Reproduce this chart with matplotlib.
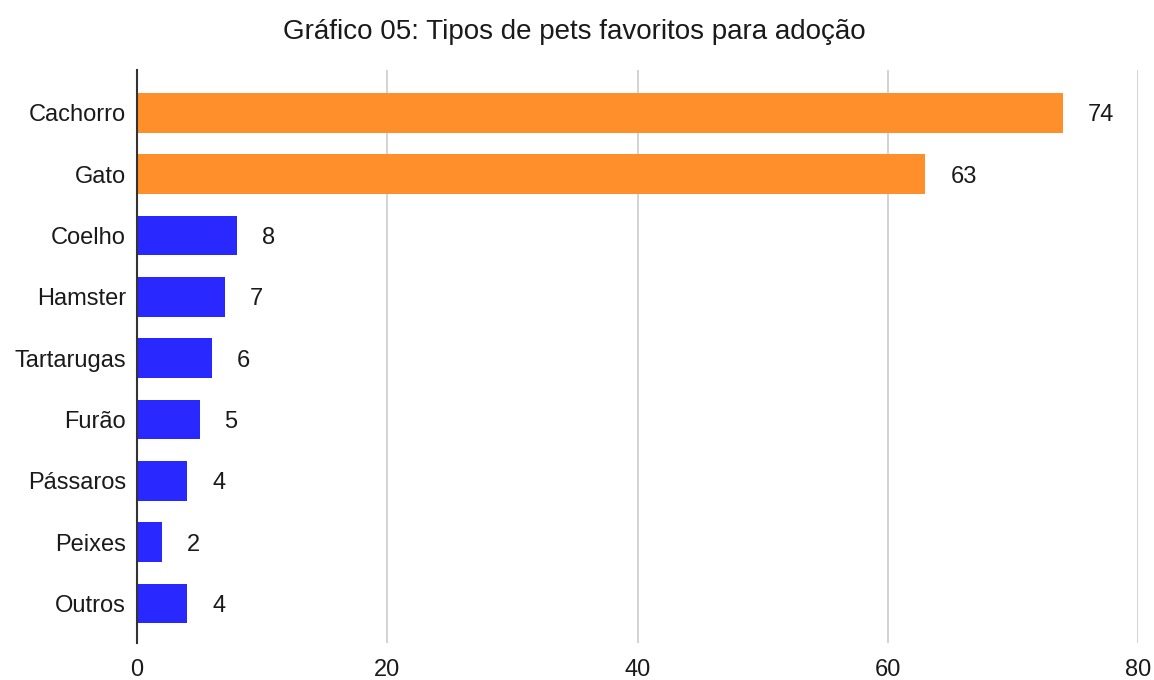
import matplotlib.pyplot as plt

categories = ["Cachorro", "Gato", "Coelho", "Hamster", "Tartarugas",
              "Furão", "Pássaros", "Peixes", "Outros"]
values = [74, 63, 8, 7, 6, 5, 4, 2, 4]
bar_colors = ["#ff8f2a", "#ff8f2a"] + ["#2828ff"] * 7
x_ticks = [0, 20, 40, 60, 80]

plt.rcParams['font.family'] = ['Liberation Sans', 'DejaVu Sans']

fig = plt.figure(figsize=(11.54, 6.8), dpi=100)
ax = fig.add_axes([0.1187, 0.054, 0.8675, 0.843])

pos = list(range(len(categories)))
ax.barh(pos, values, height=0.65, color=bar_colors, zorder=3)

for y, v in zip(pos, values):
    ax.annotate(str(v), (v, y), xytext=(18, 0), textcoords="offset points",
                va="center_baseline", ha="left", fontsize=17, color="#1a1a1a")

ax.set_xlim(0, 80)
ax.set_ylim(8.65, -0.7)
ax.set_xticks(x_ticks)
ax.set_yticks(pos)
ax.set_yticklabels(categories, va="center_baseline")
ax.tick_params(axis="both", length=0, labelsize=17, colors="#1a1a1a")
ax.tick_params(axis="x", pad=11)
ax.tick_params(axis="y", pad=8)
ax.xaxis.grid(True, color="#cccccc", linewidth=1.2, zorder=0)

for s in ["top", "right", "bottom"]:
    ax.spines[s].set_visible(False)
ax.spines["left"].set_color("#333333")
ax.spines["left"].set_linewidth(1.5)
ax.spines["left"].set_zorder(4)

fig.text(0.498, 0.953, "Gráfico 05: Tipos de pets favoritos para adoção",
         ha="center", va="center", fontsize=20, color="#1a1a1a")

fig.savefig("out.png", dpi=100)
